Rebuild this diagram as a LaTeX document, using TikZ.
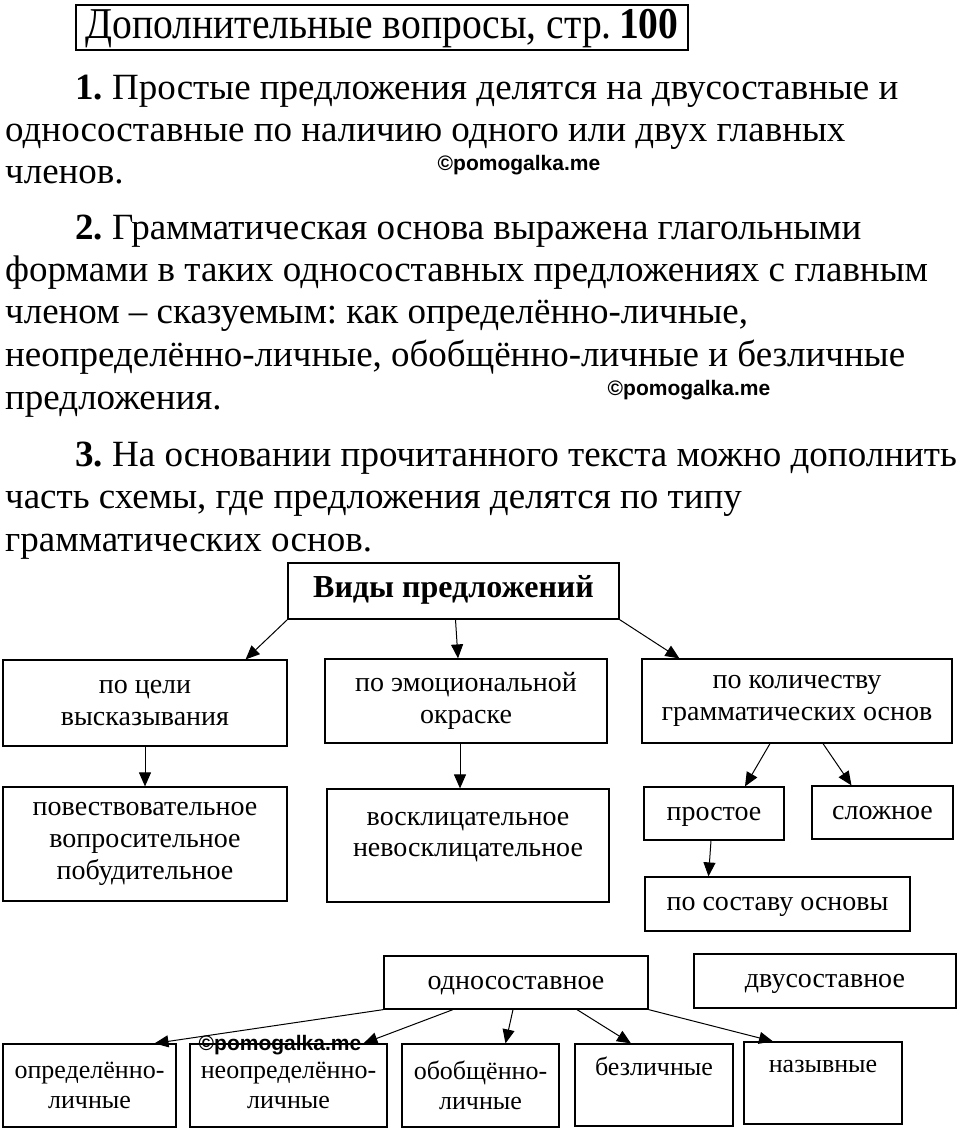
\documentclass[tikz,border=0pt]{standalone}
\usepackage{fontspec}
\setmainfont{Liberation Serif}
\newfontfamily\headfont{Liberation Serif}[FakeStretch=0.9]
\newfontfamily\markfont{Liberation Sans}
\usetikzlibrary{arrows.meta, positioning}
\frenchspacing

\tikzset{
  box/.style={draw, line width=1.2pt, inner sep=0pt, align=center, font=\fontsize{28}{32}\selectfont},
  small/.style={font=\fontsize{26}{30}\selectfont},
  single/.style={text height=19pt, text depth=6pt},
  arr/.style={-{Triangle[length=14pt,width=12pt]}, line width=1pt},
  line/.style={anchor=base west, inner sep=0pt, font=\fontsize{37}{42}\selectfont},
  wmark/.style={inner sep=0pt, font=\markfont\bfseries\fontsize{21}{24}\selectfont},
}

\begin{document}
\begin{tikzpicture}[x=1pt, y=-1pt]
\useasboundingbox (0,0) rectangle (960,1130);

% heading
\node[draw, line width=2pt, minimum width=612pt, minimum height=45pt, inner sep=0pt,
  text height=30pt, text depth=9pt,
  font=\headfont\fontsize{44}{48}\selectfont] (head) at (382,27.5)
  {Дополнительные вопросы, стр.\,\textbf{100}};

% answers
\node[line] (p1a) at (75,99)  {\textbf{1.} Простые предложения делятся на двусоставные и};
\node[line] (p1b) at (5,141)  {односоставные по наличию одного или двух главных};
\node[line] (p1c) at (5,183)  {членов.};
\node[line] (p2a) at (75,239) {\textbf{2.} Грамматическая основа выражена глагольными};
\node[line] (p2b) at (5,281)  {формами в таких односоставных предложениях с главным};
\node[line] (p2c) at (5,323)  {членом – сказуемым: как определённо-личные,};
\node[line] (p2d) at (5,366)  {неопределённо-личные, обобщённо-личные и безличные};
\node[line] (p2e) at (5,409)  {предложения.};
\node[line] (p3a) at (75,466) {\textbf{3.} На основании прочитанного текста можно дополнить};
\node[line] (p3b) at (5,508)  {часть схемы, где предложения делятся по типу};
\node[line] (p3c) at (5,551)  {грамматических основ.};

% scheme
\node[box, single, minimum width=331pt, minimum height=56pt, font=\bfseries\fontsize{32}{36}\selectfont] (root) at (453.5,591) {Виды предложений};

\node[box, minimum width=284pt, minimum height=86pt] (aim) at (145,703) {по цели\\высказывания};
\node[box, minimum width=282pt, minimum height=84pt] (emo) at (466,701) {по эмоциональной\\окраске};
\node[box, minimum width=310pt, minimum height=84pt] (count) at (797,701) {по количеству\\грамматических основ};

\node[box, minimum width=284pt, minimum height=114pt] (aimkinds) at (145,844) {повествовательное\\вопросительное\\побудительное};
\node[box, minimum width=282pt, minimum height=113pt,
  label={[anchor=north, inner sep=0pt, align=center, yshift=-24pt, font=\fontsize{28}{31}\selectfont]north:восклицательное\\невосклицательное}] (emokinds) at (468,845.5) {};

\node[box, single, minimum width=140pt, minimum height=53pt] (simple) at (714,813.5) {простое};
\node[box, single, minimum width=141pt, minimum height=53pt] (complex) at (882.5,812.5) {сложное};
\node[box, single, minimum width=265pt, minimum height=54pt] (basis) at (777.5,904) {по составу основы};

\node[box, single, minimum width=264pt, minimum height=53pt] (one) at (516,982.5) {односоставное};
\node[box, single, minimum width=262pt, minimum height=54pt] (two) at (825,981) {двусоставное};

\node[box, small, minimum width=173pt, minimum height=83pt] (definite) at (89.5,1085.5) {определённо-\\личные};
\node[box, small, minimum width=197pt, minimum height=83pt] (indefinite) at (288.5,1085.5) {неопределённо-\\личные};
\node[box, small, minimum width=157pt, minimum height=83pt] (generic) at (480.5,1085.5) {обобщённо-\\личные};
\node[box, minimum width=158pt, minimum height=82pt,
  label={[anchor=north, inner sep=0pt, yshift=-13pt, font=\fontsize{26}{30}\selectfont]north:безличные}] (impersonal) at (654,1085) {};
\node[box, minimum width=158pt, minimum height=82pt,
  label={[anchor=north, inner sep=0pt, yshift=-19pt, font=\fontsize{26}{30}\selectfont]north:назывные}] (nominal) at (823,1083) {};

% arrows
\draw[arr] (root.south west) -- ([xshift=-42pt]aim.north east);
\draw[arr] ([xshift=2pt]root.south) -- ([xshift=-8pt]emo.north);
\draw[arr] (root.south east) -- ([xshift=38pt]count.north west);
\draw[arr] (aim.south) -- (aimkinds.north);
\draw[arr] ([xshift=-6pt]emo.south) -- ([xshift=-8pt]emokinds.north);
\draw[arr] ([xshift=-27pt]count.south) -- ([xshift=31pt]simple.north);
\draw[arr] ([xshift=26pt]count.south) -- ([xshift=-31pt]complex.north);
\draw[arr] ([xshift=-3pt]simple.south) -- ([xshift=-69pt]basis.north);
\draw[arr] (one.south west) -- ([xshift=65pt]definite.north);
\draw[arr] ([xshift=-63pt]one.south) -- ([xshift=75pt]indefinite.north);
\draw[arr] ([xshift=-3pt]one.south) -- ([xshift=25pt]generic.north);
\draw[arr] ([xshift=61pt]one.south) -- ([xshift=-23pt]impersonal.north);
\draw[arr] (one.south east) -- ([xshift=-50pt]nominal.north);

% watermarks
\node[wmark] (wm1) at (519,165) {©pomogalka.me};
\node[wmark] (wm2) at (689,390) {©pomogalka.me};
\node[wmark] (wm3) at (280,1045) {©pomogalka.me};
\end{tikzpicture}
\end{document}
